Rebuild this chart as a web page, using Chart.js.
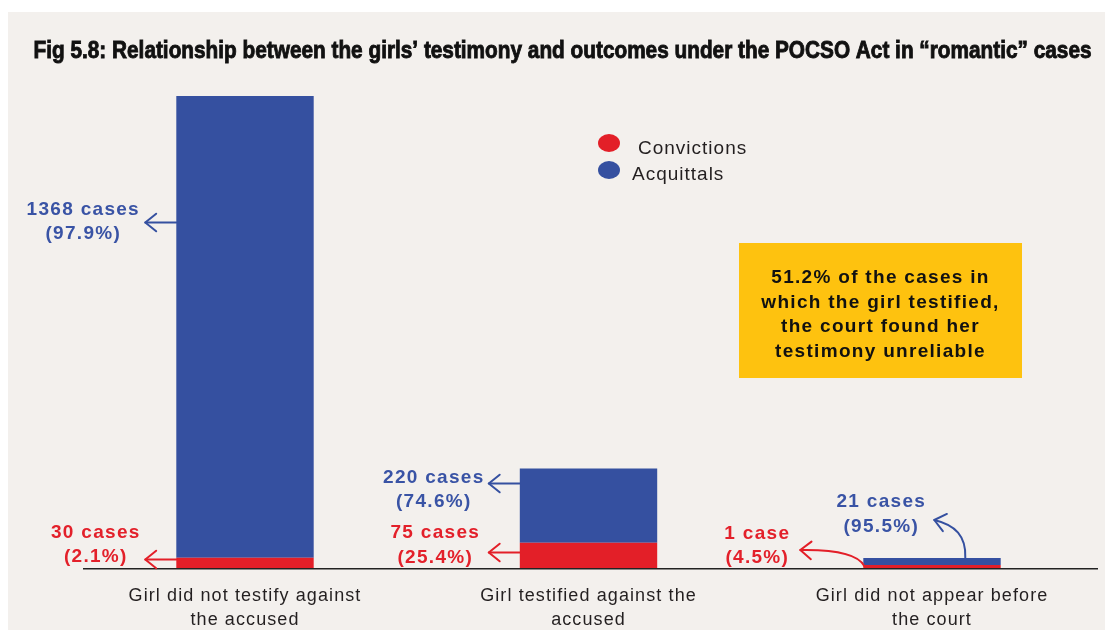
<!DOCTYPE html>
<html><head><meta charset="utf-8">
<script src="https://cdn.jsdelivr.net/npm/chart.js@4.4.1/dist/chart.umd.min.js"></script>
<style>html,body{margin:0;padding:0;background:#fff;} #wrap{width:1105px;height:630px;position:relative;}</style>
</head><body><div id="wrap"><canvas id="c" width="1105" height="630"></canvas></div>
<script>
// ---------- data ----------
const categories = [["Girl did not testify against","the accused"],["Girl testified against the","accused"],["Girl did not appear before","the court"]];
const seriesNames = ["Convictions","Acquittals"];
const convictions = [30, 75, 1];
const acquittals = [1368, 220, 21];
const convictionLabels = [["30 cases","(2.1%)"],["75 cases","(25.4%)"],["1 case","(4.5%)"]];
const acquittalLabels = [["1368 cases","(97.9%)"],["220 cases","(74.6%)"],["21 cases","(95.5%)"]];
const titleText = "Fig 5.8: Relationship between the girls\u2019 testimony and outcomes under the POCSO Act in \u201cromantic\u201d cases";
const noteLines = ["51.2% of the cases in","which the girl testified,","the court found her","testimony unreliable"];

// ---------- styles ----------
const RED = '#e31f28', BLUE = '#3550a0', BLUE_TXT = '#3953a5', RED_TXT = '#e3202a';
const BG = '#f3f0ed', YELLOW = '#fec20f', INK = '#231f20';
const yMax = convictions[0] + acquittals[0];

// annotation layout (arrow anchor in data units, label offsets from arrow tip)
const straightArrows = [
  {ds:1, i:0, at:1025, labels:acquittalLabels[0], dx:-62,   b:[-8,16]},
  {ds:0, i:0, at:27,   labels:convictionLabels[0], dx:-49.5, b:[-22,2]},
  {ds:1, i:1, at:252,  labels:acquittalLabels[1], dx:-55,   b:[-1,23]},
  {ds:0, i:1, at:47,   labels:convictionLabels[1], dx:-53.5, b:[-15,10]}
];

function arrowHead(ctx, tx, ty, dx, dy, len, ang) {
  const a = Math.atan2(dy, dx);
  ctx.beginPath();
  ctx.moveTo(tx - len*Math.cos(a - ang), ty - len*Math.sin(a - ang));
  ctx.lineTo(tx, ty);
  ctx.lineTo(tx - len*Math.cos(a + ang), ty - len*Math.sin(a + ang));
  ctx.stroke();
}
function twoLines(ctx, lines, cx, y1, y2, color) {
  ctx.fillStyle = color;
  ctx.font = 'bold 19px "Liberation Sans", Arial, sans-serif';
  ctx.letterSpacing = '1.3px';
  ctx.textAlign = 'center';
  ctx.textBaseline = 'alphabetic';
  ctx.fillText(lines[0], cx, y1);
  ctx.fillText(lines[1], cx, y2);
}

const decor = {
  id: 'decor',
  beforeDraw(chart) {
    const ctx = chart.ctx;
    ctx.save();
    ctx.fillStyle = '#ffffff';
    ctx.fillRect(0, 0, chart.width, chart.height);
    ctx.fillStyle = BG;
    ctx.fillRect(8, 12, chart.width - 8, chart.height - 12);
    ctx.restore();
    ctx.letterSpacing = '1.1px';
  },
  afterDatasetsDraw(chart) {
    const ctx = chart.ctx;
    const ys = chart.scales.y, ca = chart.chartArea;
    const base = ys.getPixelForValue(0);
    ctx.save();
    // axis line
    ctx.strokeStyle = '#222';
    ctx.lineWidth = 1.5;
    ctx.beginPath();
    ctx.moveTo(ca.left + 9.75, base + 0.75);
    ctx.lineTo(ca.right - 5.75, base + 0.75);
    ctx.stroke();

    // title (condensed bold)
    ctx.fillStyle = '#111';
    ctx.strokeStyle = '#111';
    ctx.lineWidth = 0.9;
    ctx.font = 'bold 24px "Liberation Sans", Arial, sans-serif';
    ctx.letterSpacing = '0px';
    ctx.textAlign = 'center';
    ctx.textBaseline = 'alphabetic';
    const tw = ctx.measureText(titleText).width;
    ctx.save();
    ctx.translate(562.5, 57.5);
    ctx.scale(1058 / tw, 1);
    ctx.fillText(titleText, 0, 0);
    ctx.strokeText(titleText, 0, 0);
    ctx.restore();

    // legend
    const legendItems = [
      {c: chart.data.datasets[0].backgroundColor, t: chart.data.datasets[0].label, cx: 609, cy: 143, tx: 638, ty: 154},
      {c: chart.data.datasets[1].backgroundColor, t: chart.data.datasets[1].label, cx: 609, cy: 170, tx: 632, ty: 180}
    ];
    legendItems.forEach(it => {
      ctx.fillStyle = it.c;
      ctx.beginPath();
      ctx.ellipse(it.cx, it.cy, 11, 9, 0, 0, Math.PI*2);
      ctx.fill();
      ctx.fillStyle = INK;
      ctx.font = '19px "Liberation Sans", Arial, sans-serif';
      ctx.letterSpacing = '1px';
      ctx.textAlign = 'left';
      ctx.fillText(it.t, it.tx, it.ty);
    });

    // note box
    ctx.fillStyle = YELLOW;
    ctx.fillRect(739, 243, 283, 135);
    ctx.fillStyle = '#111';
    ctx.font = 'bold 19px "Liberation Sans", Arial, sans-serif';
    ctx.letterSpacing = '1.3px';
    ctx.textAlign = 'center';
    noteLines.forEach((l, k) => ctx.fillText(l, 880.5, 283 + k*24.7));

    // straight arrows + labels
    ctx.lineWidth = 2;
    ctx.lineCap = 'round';
    ctx.lineJoin = 'round';
    straightArrows.forEach(a => {
      const el = chart.getDatasetMeta(a.ds).data[a.i];
      const left = el.x - el.width/2;
      const y = Math.round(ys.getPixelForValue(a.at)) + 0.5;
      const tip = left - 31;
      const col = a.ds === 0 ? RED : BLUE;
      ctx.strokeStyle = col;
      ctx.beginPath();
      ctx.moveTo(left, y); ctx.lineTo(tip, y); ctx.stroke();
      arrowHead(ctx, tip, y, -1, 0, 14, 0.68);
      twoLines(ctx, a.labels, tip + a.dx, y + a.b[0], y + a.b[1], a.ds === 0 ? RED_TXT : BLUE_TXT);
    });

    // curved arrows for third bar
    const r3 = chart.getDatasetMeta(0).data[2];
    const b3 = chart.getDatasetMeta(1).data[2];
    const L = r3.x - r3.width/2, B = r3.base;
    ctx.strokeStyle = RED;
    let sx = L + 1, sy = B - 2, cx1 = L - 8, cy1 = B - 19, ex = L - 63, ey = B - 18;
    ctx.beginPath(); ctx.moveTo(sx, sy); ctx.quadraticCurveTo(cx1, cy1, ex, ey); ctx.stroke();
    arrowHead(ctx, ex, ey, ex - cx1, ey - cy1 - 3, 14, 0.68);
    twoLines(ctx, convictionLabels[2], ex - 43, ey - 11, ey + 13, RED_TXT);
    ctx.strokeStyle = BLUE;
    sx = L + 102; sy = b3.y;
    const c1x = L + 103, c1y = B - 32, c2x = L + 92, c2y = B - 43;
    ex = L + 71; ey = B - 48;
    ctx.beginPath(); ctx.moveTo(sx, sy); ctx.bezierCurveTo(c1x, c1y, c2x, c2y, ex, ey); ctx.stroke();
    arrowHead(ctx, ex, ey, ex - c2x, ey - c2y, 14, 0.68);
    twoLines(ctx, acquittalLabels[2], ex - 53, ey - 13, ey + 12, BLUE_TXT);

    ctx.restore();
    ctx.letterSpacing = '0px';
  }
};

new Chart(document.getElementById('c'), {
  type: 'bar',
  data: {
    labels: categories,
    datasets: [
      {label: seriesNames[0], data: convictions, backgroundColor: RED, borderWidth: 0, minBarLength: 3, order: -1},
      {label: seriesNames[1], data: acquittals, backgroundColor: BLUE, borderWidth: 0, order: 0}
    ]
  },
  options: {
    responsive: false,
    animation: false,
    devicePixelRatio: 1,
    layout: {padding: {left: 73.25, right: 1.25, top: 96, bottom: 0}},
    datasets: {bar: {categoryPercentage: 1, barPercentage: 0.4}},
    plugins: {legend: {display: false}, tooltip: {enabled: false}, title: {display: false}},
    scales: {
      x: {
        stacked: true,
        grid: {display: false, drawTicks: false},
        border: {display: false},
        ticks: {color: INK, padding: 17, maxRotation: 0, autoSkip: false,
                font: {family: '"Liberation Sans", Arial, sans-serif', size: 18, lineHeight: 1.28}},
        afterFit: (s) => { s.height = 62; }
      },
      y: {stacked: true, display: false, min: 0, max: yMax}
    }
  },
  plugins: [decor]
});
</script>
</body></html>
